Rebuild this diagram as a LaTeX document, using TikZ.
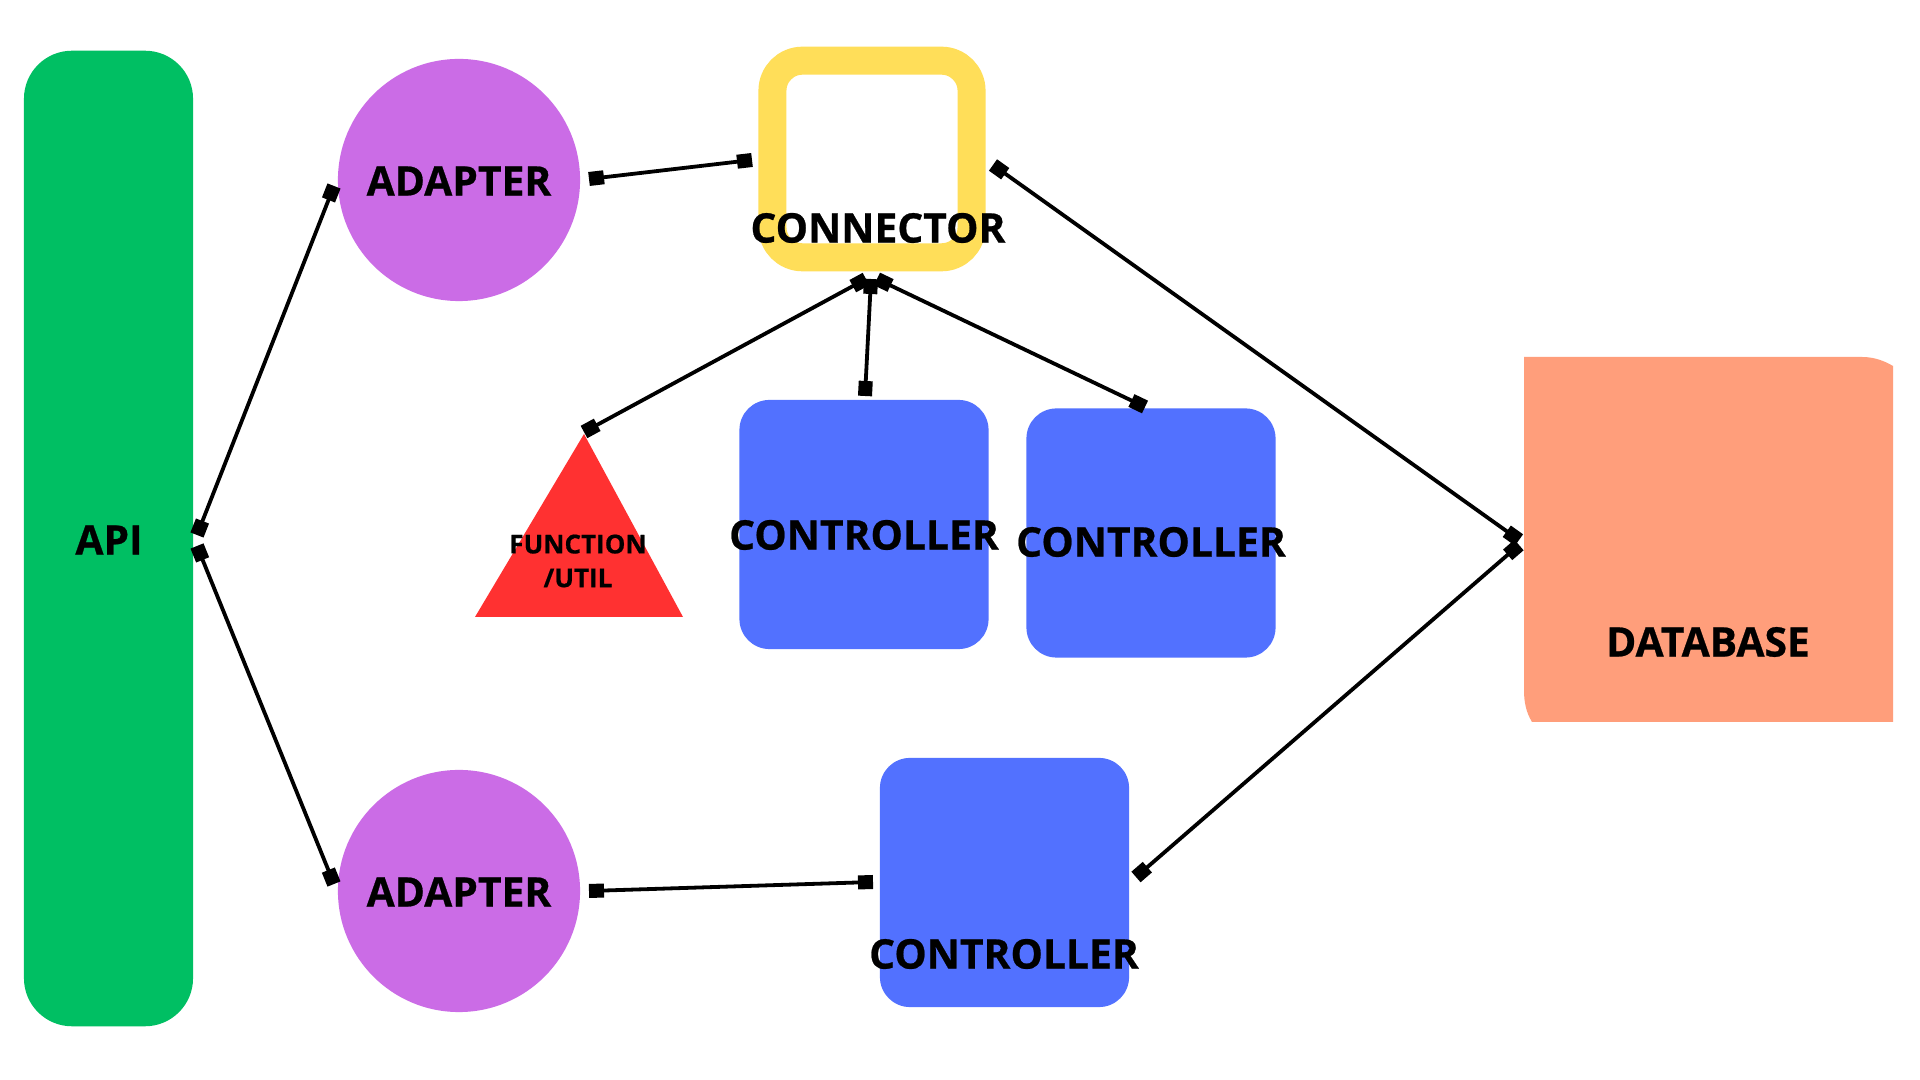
\documentclass[tikz,border=0pt]{standalone}
\usepackage{fontspec}
\setmainfont{Open Sans}[BoldFeatures={FakeBold=0.6}]
\usetikzlibrary{arrows.meta}
\definecolor{apigreen}{HTML}{00BF63}
\definecolor{adpurple}{HTML}{CB6CE6}
\definecolor{conyellow}{HTML}{FFDE59}
\definecolor{fnred}{HTML}{FF3131}
\definecolor{ctrlblue}{HTML}{5271FF}
\definecolor{dbsalmon}{HTML}{FF9E7B}
\begin{document}
\begin{tikzpicture}[x=0.01cm,y=-0.01cm,
  lbl/.style={font=\fontsize{11.6}{14}\selectfont\bfseries, text=black, inner sep=0},
  smalllbl/.style={font=\fontsize{7.4}{9.6}\selectfont\bfseries, text=black, align=center, inner sep=0},
  link/.style={line width=0.038cm, {Square[length=0.15cm,width=0.14cm]}-{Square[length=0.15cm,width=0.14cm]}},
  ctrlbox/.style={fill=ctrlblue, rounded corners=0.3cm, minimum width=2.49cm, minimum height=2.49cm, inner sep=0},
  adbox/.style={circle, fill=adpurple, minimum size=2.42cm, inner sep=0}]
\useasboundingbox[fill=white] (0,0) rectangle (1920,1080);

% API
\node[fill=apigreen, rounded corners=0.48cm, minimum width=1.69cm, minimum height=9.75cm, inner sep=0] (api) at (108.5,538.5) {};
% Adapters
\node[adbox] (ad1) at (459,180) {};
\node[adbox] (ad2) at (459,891) {};
% Connector
\node[draw=conyellow, line width=0.28cm, rounded corners=0.3cm, minimum width=1.99cm, minimum height=1.965cm, inner sep=0] (con) at (872,159) {};
% Function/util triangle
\fill[fnred] (584,434) -- (683,617) -- (475,617) -- cycle;
% Controllers
\node[ctrlbox] (c1) at (864,524.5) {};
\node[ctrlbox] (c2) at (1151,533) {};
\node[ctrlbox] (c3) at (1004.5,882.5) {};
% Database
\fill[dbsalmon] (1524,357) -- (1862,357) .. controls (1876,357) and (1886,362) .. (1893,366)
  -- (1893,722) -- (1532,722) .. controls (1526,712) and (1524,702) .. (1524,690) -- cycle;
\node (db) at (1708,540) {};

% connection points
\coordinate (api-a1) at (197,535);
\coordinate (a1-api) at (334,186);
\coordinate (api-a2) at (197,546);
\coordinate (a2-api) at (334,884);
\coordinate (a1-con) at (589,179);
\coordinate (con-a1) at (752,160);
\coordinate (a2-c3) at (589,891);
\coordinate (c3-a2) at (873,882);
\coordinate (con-db) at (993,165);
\coordinate (db-con) at (1519,540);
\coordinate (c3-db) at (1136,877);
\coordinate (db-c3) at (1519,545);
\coordinate (con-fn) at (866,279);
\coordinate (fn-con) at (584,432);
\coordinate (con-c1) at (871,279);
\coordinate (c1-con) at (865,396);
\coordinate (con-c2) at (877,279);
\coordinate (c2-con) at (1145,407);

% links
\draw[link] (api-a1) -- (a1-api);
\draw[link] (api-a2) -- (a2-api);
\draw[link] (a1-con) -- (con-a1);
\draw[link] (a2-c3) -- (c3-a2);
\draw[link] (con-db) -- (db-con);
\draw[link] (c3-db) -- (db-c3);
\draw[link] (con-fn) -- (fn-con);
\draw[link] (con-c1) -- (c1-con);
\draw[link] (con-c2) -- (c2-con);

% labels
\node[lbl] (apilbl) at (109,540) {API};
\node[lbl] (ad1lbl) at (459,181) {ADAPTER};
\node[lbl] (ad2lbl) at (459,892) {ADAPTER};
\node[lbl] (conlbl) at (878,228) {CONNECTOR};
\node[smalllbl] (fnlbl) at (578,561) {FUNCTION\\/UTIL};
\node[lbl] (c1lbl) at (864,535) {CONTROLLER};
\node[lbl] (c2lbl) at (1151,542) {CONTROLLER};
\node[lbl] (c3lbl) at (1004,954) {CONTROLLER};
\node[lbl] (dblbl) at (1708,642) {DATABASE};
\end{tikzpicture}
\end{document}
